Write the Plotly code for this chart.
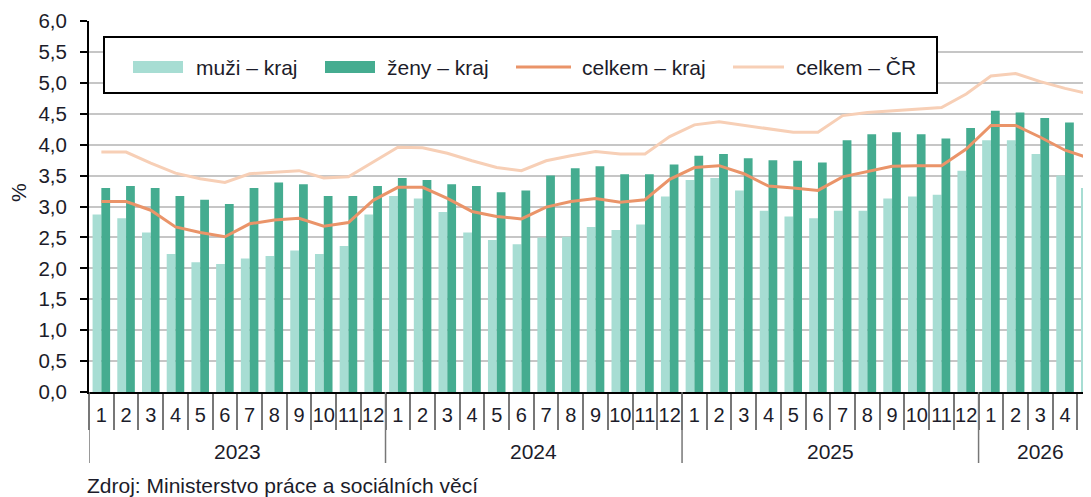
import plotly.graph_objects as go

# ---------------- data ----------------
years = ["2023", "2024", "2025", "2026"]
months_per_year = [12, 12, 12, 5]
month_labels = [str(m) for m in range(1, 13)]

muzi_kraj = [2.87, 2.81, 2.58, 2.23, 2.10, 2.07, 2.16, 2.20, 2.29, 2.23, 2.36, 2.87,
             3.17, 3.13, 2.91, 2.58, 2.46, 2.39, 2.50, 2.51, 2.67, 2.62, 2.71, 3.16,
             3.43, 3.46, 3.26, 2.93, 2.84, 2.81, 2.93, 2.93, 3.13, 3.16, 3.19, 3.58,
             4.07, 4.07, 3.85, 3.50, 3.30]
zeny_kraj = [3.30, 3.33, 3.30, 3.17, 3.11, 3.04, 3.30, 3.39, 3.36, 3.17, 3.17, 3.33,
             3.46, 3.43, 3.36, 3.33, 3.23, 3.26, 3.50, 3.62, 3.65, 3.52, 3.52, 3.68,
             3.82, 3.85, 3.78, 3.75, 3.74, 3.71, 4.07, 4.17, 4.20, 4.17, 4.10, 4.27,
             4.55, 4.52, 4.43, 4.36, 4.30]
celkem_kraj = [3.08, 3.08, 2.94, 2.67, 2.58, 2.51, 2.72, 2.78, 2.81, 2.68, 2.74, 3.10,
               3.31, 3.31, 3.13, 2.92, 2.84, 2.80, 2.99, 3.08, 3.13, 3.07, 3.11, 3.44,
               3.63, 3.66, 3.53, 3.33, 3.30, 3.26, 3.48, 3.56, 3.65, 3.66, 3.66, 3.93,
               4.31, 4.31, 4.12, 3.91, 3.78]
celkem_cr = [3.88, 3.88, 3.70, 3.54, 3.45, 3.39, 3.53, 3.56, 3.58, 3.46, 3.48, 3.72,
             3.96, 3.95, 3.86, 3.74, 3.63, 3.58, 3.74, 3.82, 3.89, 3.85, 3.85, 4.13,
             4.32, 4.37, 4.31, 4.26, 4.20, 4.20, 4.47, 4.52, 4.55, 4.57, 4.60, 4.82,
             5.11, 5.15, 5.02, 4.91, 4.82]

names = ["muži – kraj", "ženy – kraj", "celkem – kraj", "celkem – ČR"]
y_title = "%"
source = "Zdroj: Ministerstvo práce a sociálních věcí"

# category keys (unique) and their month tick labels
keys, ticktext = [], []
for yr, n in zip(years, months_per_year):
    for m in month_labels[:n]:
        keys.append(f"{yr}-{m}")
        ticktext.append(m)

# ---------------- style ----------------
C_MUZI = "#a7ddd3"
C_ZENY = "#45ac90"
C_KRAJ = "#ea9469"
C_CR = "#f7cfb6"
FONT = "Arial, Liberation Sans, sans-serif"
TXT = "#1c1c2a"
GRAY = "#777777"

OFF = 8                      # default page body margin of the html page
W, H = 1091 - OFF, 497 - OFF
# plot area in reference (screen) pixels
X0, X1, Y0, Y1 = 89, 1091, 21, 392
L, R, T, B = X0 - OFF, W - (X1 - OFF), Y0 - OFF, H - (Y1 - OFF)
PW, PH = W - L - R, H - T - B


def px(x):
    return (x - X0) / PW


def py(y):
    return (Y1 - y) / PH


fig = go.Figure()
fig.add_trace(go.Bar(x=keys, y=muzi_kraj, name=names[0], marker_color=C_MUZI,
                     marker_line_width=0, showlegend=False))
fig.add_trace(go.Bar(x=keys, y=zeny_kraj, name=names[1], marker_color=C_ZENY,
                     marker_line_width=0, showlegend=False))
fig.add_trace(go.Scatter(x=keys, y=celkem_cr, name=names[3], mode="lines",
                         line=dict(color=C_CR, width=3), showlegend=False))
fig.add_trace(go.Scatter(x=keys, y=celkem_kraj, name=names[2], mode="lines",
                         line=dict(color=C_KRAJ, width=3), showlegend=False))

shapes = []
annotations = []

# year group labels and dividers under the month labels
start = 0
for yr, n in zip(years, months_per_year):
    shapes.append(dict(type="line", xref="x", yref="paper",
                       x0=start - 0.5, x1=start - 0.5, y0=0, y1=py(463),
                       line=dict(color=GRAY, width=1.5)))
    annotations.append(dict(xref="x", yref="paper", x=start + (n - 1) / 2, y=py(451),
                            text=yr, showarrow=False, xanchor="center", yanchor="middle",
                            font=dict(family=FONT, size=21, color=TXT)))
    start += n

# legend box (drawn by hand to match the wide swatches)
shapes.append(dict(type="rect", xref="paper", yref="paper",
                   x0=px(104), x1=px(937), y0=py(93), y1=py(37),
                   line=dict(color="black", width=2), fillcolor="white", layer="above"))
ly = 67
leg = [
    ("bar", C_MUZI, 133, 183, 194, names[0]),
    ("bar", C_ZENY, 325, 375, 385, names[1]),
    ("line", C_KRAJ, 516, 571, 580, names[2]),
    ("line", C_CR, 733, 784, 794, names[3]),
]
for kind, col, s0, s1, tx, label in leg:
    if kind == "bar":
        shapes.append(dict(type="rect", xref="paper", yref="paper",
                           x0=px(s0), x1=px(s1), y0=py(ly + 6), y1=py(ly - 6),
                           line=dict(width=0), fillcolor=col, layer="above"))
    else:
        shapes.append(dict(type="line", xref="paper", yref="paper",
                           x0=px(s0), x1=px(s1), y0=py(ly), y1=py(ly),
                           line=dict(color=col, width=3), layer="above"))
    annotations.append(dict(xref="paper", yref="paper", x=px(tx), y=py(ly),
                            xanchor="left", yanchor="middle", text=label,
                            showarrow=False, font=dict(family=FONT, size=21, color=TXT)))

annotations.append(dict(xref="paper", yref="paper", x=px(18), y=py(193),
                        text=y_title, textangle=-90, showarrow=False,
                        xanchor="center", yanchor="middle",
                        font=dict(family=FONT, size=21, color=TXT)))
annotations.append(dict(xref="paper", yref="paper", x=px(85), y=py(485),
                        text=source, showarrow=False, xanchor="left", yanchor="middle",
                        font=dict(family=FONT, size=21, color=TXT)))

fig.update_layout(
    width=W, height=H,
    margin=dict(l=L, r=R, t=T, b=B, pad=0, autoexpand=False),
    paper_bgcolor="white", plot_bgcolor="white",
    barmode="group", bargap=0.29, bargroupgap=0,
    separators=", ",
    font=dict(family=FONT, size=21, color=TXT),
    shapes=shapes, annotations=annotations,
    xaxis=dict(type="category", range=[-0.5, len(keys) - 0.95], automargin=False,
               tickmode="array", tickvals=keys, ticktext=ticktext,
               showline=True, linecolor="black", linewidth=2,
               ticks="outside", tickson="boundaries", ticklen=36,
               tickcolor=GRAY, tickwidth=1.5, tickangle=0,
               ticklabelstandoff=4, ticklabeloverflow="allow",
               showgrid=False, tickfont=dict(family=FONT, size=20, color=TXT)),
    yaxis=dict(range=[0, 6], dtick=0.5, tickformat=".1f", automargin=False,
               showline=True, linecolor="black", linewidth=2,
               ticks="outside", ticklen=7, tickcolor="black", tickwidth=2,
               ticklabelstandoff=9,
               showgrid=True, gridcolor="#c6c6c6", gridwidth=2,
               zeroline=False, tickfont=dict(family=FONT, size=20.5, color=TXT)),
)

fig.write_html("out.html")
